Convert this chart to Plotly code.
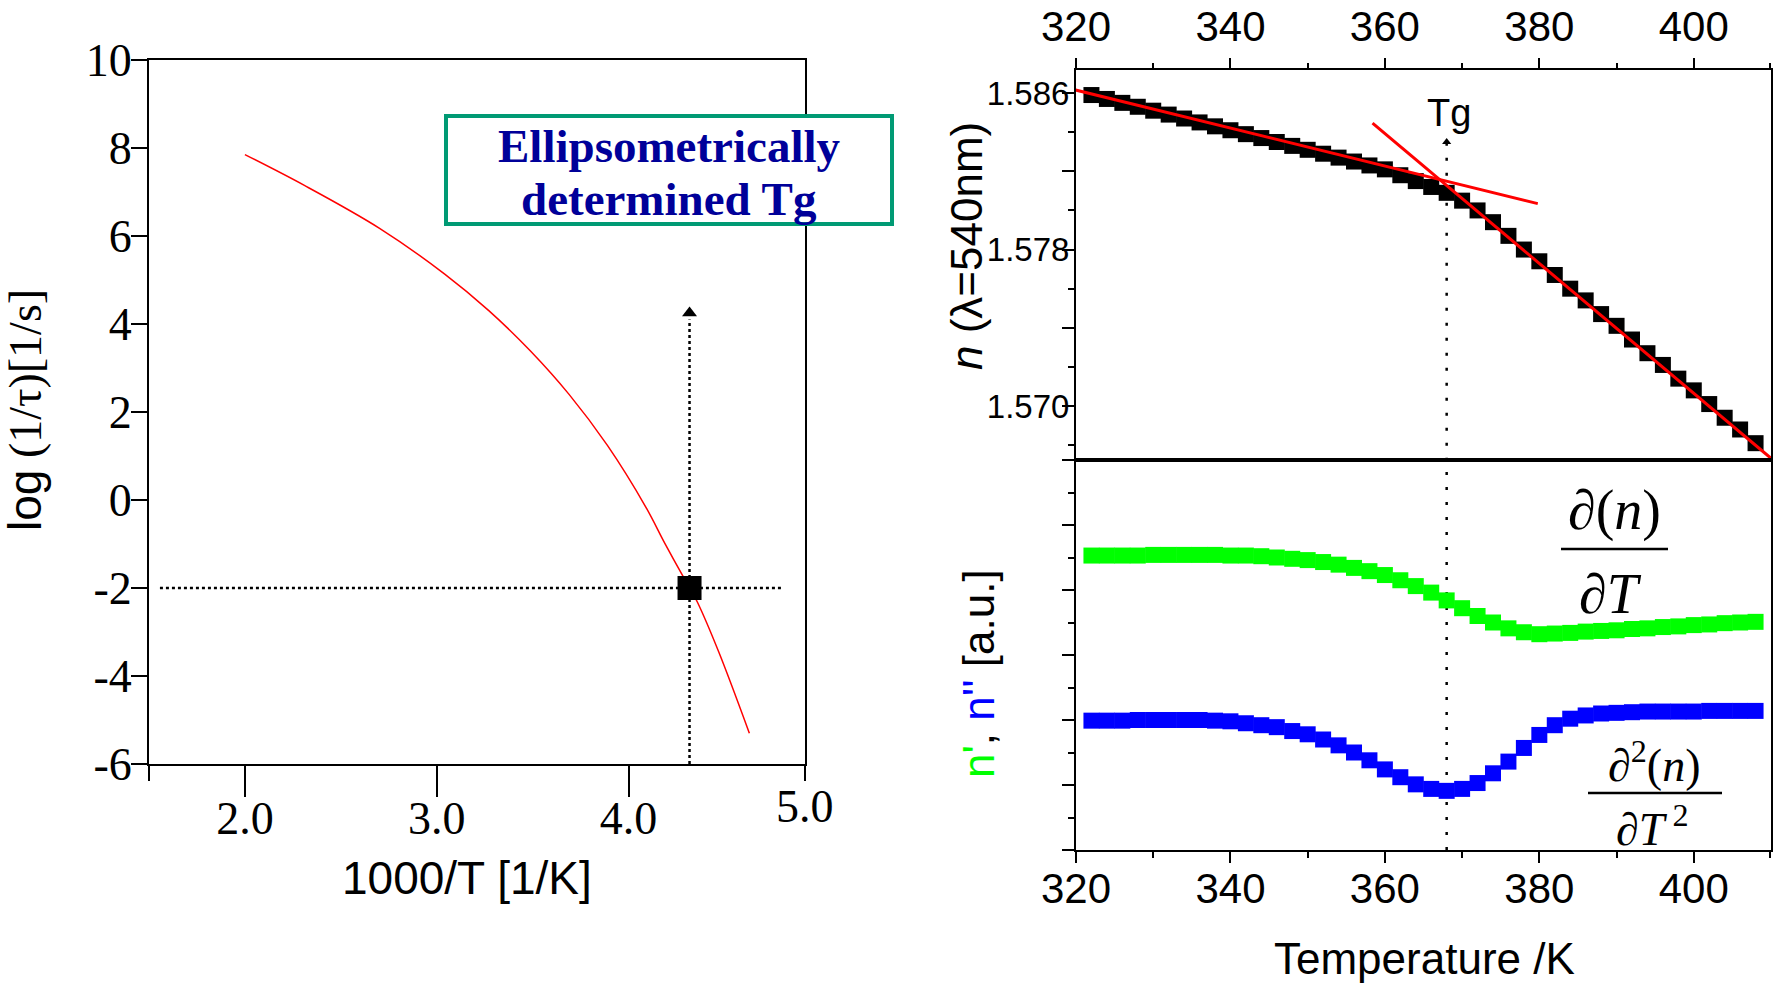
import plotly.graph_objects as go

W, H = 1776, 984

# ---------------- data ----------------
# left panel: relaxation curve, log(1/tau) vs 1000/T
vft_x = [2.00, 2.31, 2.70, 3.04, 3.27, 3.49, 3.69, 3.89, 4.09, 4.19, 4.28, 4.32, 4.36, 4.47, 4.63]
vft_y = [7.85, 7.15, 6.18, 5.14, 4.31, 3.38, 2.40, 1.24, -0.16, -0.99, -1.70, -2.00, -2.33, -3.45, -5.30]
tg_point_x = 4.318          # 1000/Tg
tg_point_y = -2.0           # log(1/tau) at Tg
hline_x = [1.557, 4.81]     # extent of horizontal guide
vline_y = [-6.0, 4.1]       # extent of vertical guide
arrow_top_y = 4.25

# right panels
temps = [322, 324, 326, 328, 330, 332, 334, 336, 338, 340, 342, 344, 346, 348, 350,
         352, 354, 356, 358, 360, 362, 364, 366, 368, 370, 372, 374, 376, 378, 380,
         382, 384, 386, 388, 390, 392, 394, 396, 398, 400, 402, 404, 406, 408]
n_index = [1.5859, 1.5857, 1.5855, 1.5853, 1.5851, 1.5849, 1.5847, 1.5845, 1.5843, 1.5841,
           1.5839, 1.5837, 1.5835, 1.5833, 1.5831, 1.5829, 1.5827, 1.5825, 1.5823, 1.5821,
           1.5818, 1.5815, 1.5812, 1.5809, 1.5805, 1.5800, 1.5794, 1.5787, 1.5780, 1.5774,
           1.5767, 1.5760, 1.5754, 1.5747, 1.5741, 1.5734, 1.5727, 1.5721, 1.5714, 1.5708,
           1.5701, 1.5694, 1.5688, 1.5681]
dn_dT = [4.53, 4.53, 4.53, 4.53, 4.54, 4.54, 4.54, 4.54, 4.54, 4.53, 4.53, 4.52, 4.50, 4.48,
         4.46, 4.43, 4.39, 4.34, 4.29, 4.23, 4.15, 4.06, 3.96, 3.84, 3.72, 3.60, 3.50, 3.41,
         3.35, 3.32, 3.33, 3.34, 3.36, 3.37, 3.38, 3.40, 3.41, 3.43, 3.44, 3.46, 3.47, 3.49,
         3.50, 3.51]
d2n_dT2 = [1.99, 1.99, 1.99, 2.00, 2.00, 2.00, 2.00, 2.00, 1.99, 1.98, 1.95, 1.92, 1.89, 1.83,
           1.78, 1.70, 1.61, 1.50, 1.38, 1.24, 1.12, 1.01, 0.94, 0.91, 0.94, 1.03, 1.18, 1.36,
           1.57, 1.77, 1.92, 2.02, 2.07, 2.10, 2.11, 2.12, 2.13, 2.13, 2.13, 2.13, 2.14, 2.14,
           2.14, 2.14]
fit_glass_T = [319.5, 379.8]
fit_glass_n = [1.5862, 1.58035]
fit_melt_T = [358.4, 410.5]
fit_melt_n = [1.58446, 1.56716]
tg_T = 368.0
tg_n_arrow = 1.5835
tg_label_n = 1.5850

# ---------------- helpers for paper positions ----------------
def px(x):
    return x / W

def py(y):
    return 1 - y / H

SERIF = "Liberation Serif, Times New Roman, serif"
SANS = "Liberation Sans, Arial, sans-serif"

fig = go.Figure()

# ---------------- left panel ----------------
fig.add_trace(go.Scatter(x=hline_x, y=[tg_point_y, tg_point_y], mode="lines",
                         line=dict(color="black", width=2.5, dash="3px,3px"),
                         xaxis="x", yaxis="y", showlegend=False))
fig.add_trace(go.Scatter(x=[tg_point_x, tg_point_x], y=vline_y, mode="lines",
                         line=dict(color="black", width=2.5, dash="3px,3px"),
                         xaxis="x", yaxis="y", showlegend=False))
fig.add_trace(go.Scatter(x=[tg_point_x], y=[arrow_top_y], mode="markers",
                         marker=dict(symbol="triangle-up", size=13, color="black"),
                         xaxis="x", yaxis="y", showlegend=False))
fig.add_trace(go.Scatter(x=vft_x, y=vft_y, mode="lines",
                         line=dict(color="red", width=1.5, shape="spline"),
                         xaxis="x", yaxis="y", showlegend=False))
fig.add_trace(go.Scatter(x=[tg_point_x], y=[tg_point_y], mode="markers",
                         marker=dict(symbol="square", size=24, color="black"),
                         xaxis="x", yaxis="y", showlegend=False))

# ---------------- right upper panel ----------------
fig.add_trace(go.Scatter(x=[tg_T, tg_T], y=[1.5672, tg_n_arrow], mode="lines",
                         line=dict(color="black", width=2.5, dash="3px,12px"),
                         xaxis="x2", yaxis="y2", showlegend=False))
fig.add_trace(go.Scatter(x=[tg_T], y=[tg_n_arrow], mode="markers",
                         marker=dict(symbol="triangle-up", size=8, color="black"),
                         xaxis="x2", yaxis="y2", showlegend=False))
fig.add_trace(go.Scatter(x=temps, y=n_index, mode="markers",
                         marker=dict(symbol="square", size=16, color="black", line=dict(width=0)),
                         xaxis="x2", yaxis="y2", showlegend=False))
fig.add_trace(go.Scatter(x=fit_glass_T, y=fit_glass_n, mode="lines",
                         line=dict(color="red", width=3),
                         xaxis="x2", yaxis="y2", showlegend=False))
fig.add_trace(go.Scatter(x=fit_melt_T, y=fit_melt_n, mode="lines",
                         line=dict(color="red", width=3),
                         xaxis="x2", yaxis="y2", showlegend=False))

# ---------------- right lower panel ----------------
fig.add_trace(go.Scatter(x=[tg_T, tg_T], y=[0, 6], mode="lines",
                         line=dict(color="black", width=2.5, dash="3px,12px"),
                         xaxis="x3", yaxis="y3", showlegend=False))
fig.add_trace(go.Scatter(x=temps, y=dn_dT, mode="markers",
                         marker=dict(symbol="square", size=16, color="#00ff00", line=dict(width=0)),
                         xaxis="x3", yaxis="y3", showlegend=False))
fig.add_trace(go.Scatter(x=temps, y=d2n_dT2, mode="markers",
                         marker=dict(symbol="square", size=16, color="#0000ff", line=dict(width=0)),
                         xaxis="x3", yaxis="y3", showlegend=False))

axis_common = dict(showgrid=False, zeroline=False, showline=True, linecolor="black",
                   linewidth=2, ticks="outside", tickcolor="black", tickwidth=2, mirror=True,
                   automargin=False)

fig.update_layout(
    template="none",
    width=W, height=H,
    margin=dict(l=0, r=0, t=0, b=0, pad=0, autoexpand=False),
    paper_bgcolor="white", plot_bgcolor="white",
    showlegend=False,
    xaxis=dict(domain=[px(149), px(805)], anchor="y", range=[1.5, 4.92],
               tickvals=[2, 3, 4], ticktext=["2.0", "3.0", "4.0"], ticklen=31,
               ticklabelstandoff=-18,
               tickfont=dict(family=SERIF, size=46, color="black"),
               minor=dict(tickvals=[1.501, 4.919], ticklen=15, tickwidth=2,
                          ticks="outside", tickcolor="black"),
               **axis_common),
    yaxis=dict(domain=[py(764), py(60)], anchor="x", range=[-6, 10],
               tickvals=[-6, -4, -2, 0, 2, 4, 6, 8, 10],
               ticktext=["-6", "-4", "-2", "0", "2", "4", "6", "8", "10"], ticklen=16,
               ticklabelstandoff=-10,
               tickfont=dict(family=SERIF, size=46, color="black"),
               **axis_common),
    xaxis2=dict(domain=[px(1076), px(1771)], anchor="y2", side="top", range=[320, 410],
                tickvals=[320, 340, 360, 380, 400], ticklen=10, ticklabelstandoff=0,
                tickfont=dict(family=SANS, size=42, color="black"),
                minor=dict(tickvals=[330, 350, 370, 390, 409.9], ticklen=5, tickwidth=2,
                           ticks="outside", tickcolor="black"),
                **axis_common),
    yaxis2=dict(domain=[py(460), py(70)], anchor="x2", range=[1.56724, 1.58718],
                tickvals=[1.570, 1.574, 1.578, 1.582, 1.586],
                ticktext=["1.570", "", "1.578", "", "1.586"], ticklen=12,
                ticklabelstandoff=-14,
                tickfont=dict(family=SANS, size=33, color="black"),
                minor=dict(tickvals=[1.568, 1.572, 1.576, 1.580, 1.584], ticklen=6,
                           tickwidth=2, ticks="outside", tickcolor="black"),
                **axis_common),
    xaxis3=dict(domain=[px(1076), px(1771)], anchor="y3", range=[320, 410],
                tickvals=[320, 340, 360, 380, 400], ticklen=11, ticklabelstandoff=-10,
                tickfont=dict(family=SANS, size=42, color="black"),
                minor=dict(tickvals=[330, 350, 370, 390, 409.9], ticklen=6, tickwidth=2,
                           ticks="outside", tickcolor="black"),
                **axis_common),
    yaxis3=dict(domain=[py(850), py(460)], anchor="x3", range=[0, 6],
                tickvals=[0, 1, 2, 3, 4, 5, 6], showticklabels=False, ticklen=12,
                minor=dict(tickvals=[0.5, 1.5, 2.5, 3.5, 4.5, 5.5], ticklen=6,
                           tickwidth=2, ticks="outside", tickcolor="black"),
                **axis_common),
)

def label(text, x, y, size, family=SANS, color="black", angle=0, xref="paper", yref="paper"):
    return dict(text=text, x=x, y=y, xref=xref, yref=yref, showarrow=False,
                xanchor="center", yanchor="middle", textangle=angle,
                font=dict(family=family, size=size, color=color))

ann = [
    label("<span style='font-family:Liberation Sans'>log</span> (1/τ)[1/s]",
          px(25), py(410), 46, family=SERIF, angle=-90),
    label("1000/T [1/K]", px(467), py(878), 46),
    label("5.0", 4.92, py(806), 46, family=SERIF, xref="x"),
    label("<i>n</i> (λ=540nm)", px(966), py(246), 44, angle=-90),
    label("<span style='color:#00ff00'>n'</span>, <span style='color:#0000ff'>n''</span> [a.u.]",
          px(978), py(674), 44, angle=-90),
    label("Temperature /K", px(1424), py(958), 44),
    label("Tg", tg_T + 0.3, tg_label_n, 38, xref="x2", yref="y2"),
    label("<b>Ellipsometrically</b>", px(669), py(146), 47, family=SERIF, color="#000099"),
    label("<b>determined Tg</b>", px(669), py(199), 47, family=SERIF, color="#000099"),
    label("∂(<i>n</i>)", px(1614), py(510), 56, family=SERIF),
    label("∂<i>T</i>", px(1610), py(594), 56, family=SERIF),
    label("∂<sup>2</sup>(<i>n</i>)", px(1654), py(762), 46, family=SERIF),
    label("∂<i>T</i><sup> 2</sup>", px(1652), py(826), 46, family=SERIF),
]
fig.update_layout(annotations=ann)

fig.update_layout(shapes=[
    dict(type="rect", xref="paper", yref="paper", layer="above",
         x0=px(446), x1=px(892), y0=py(224), y1=py(116),
         line=dict(color="#009a74", width=4), fillcolor="white"),
    dict(type="line", xref="paper", yref="paper", x0=px(1561), x1=px(1668),
         y0=py(549), y1=py(549), line=dict(color="black", width=2.5)),
    dict(type="line", xref="paper", yref="paper", x0=px(1588), x1=px(1722),
         y0=py(793), y1=py(793), line=dict(color="black", width=2.5)),
])

fig.write_html("out.html")
